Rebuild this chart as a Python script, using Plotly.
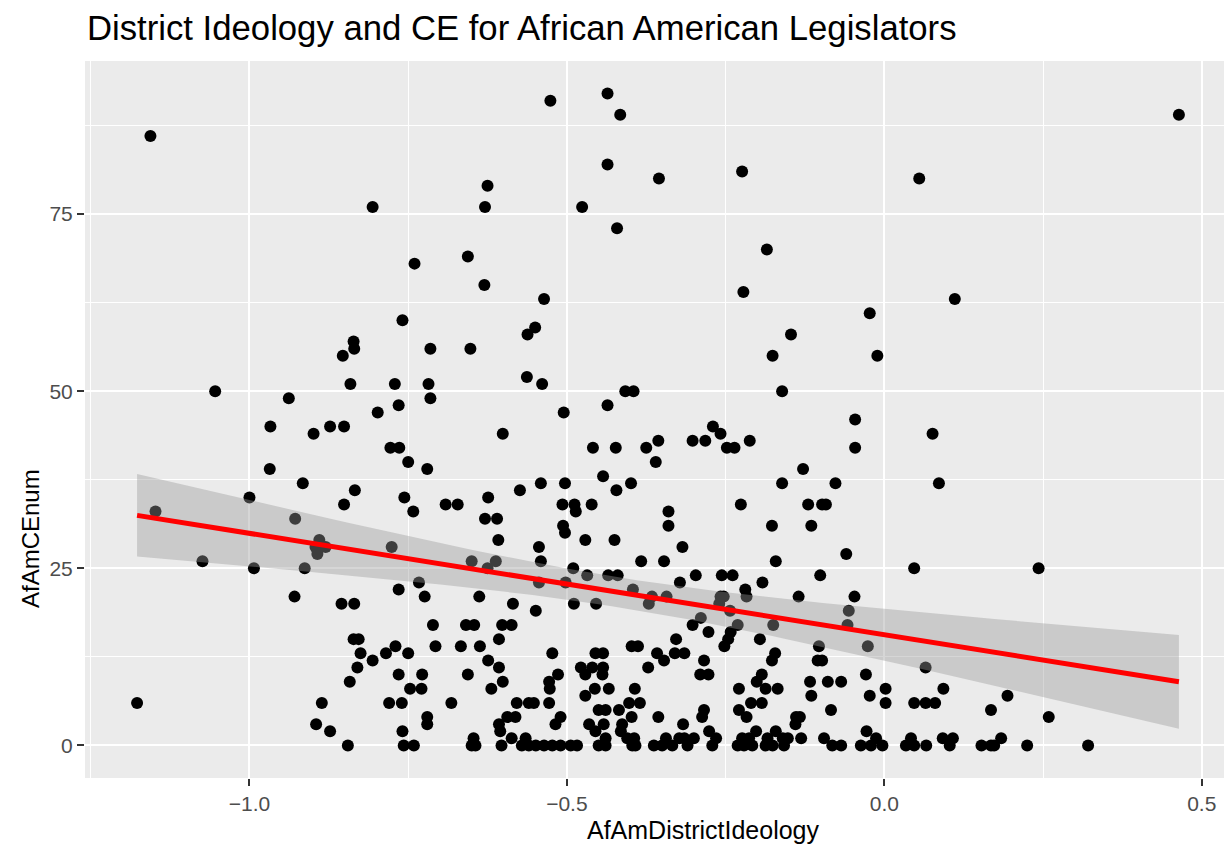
import numpy as np
import plotly.graph_objects as go

# ---------------- data ----------------
# (AfAmDistrictIdeology, AfAmCEnum) pairs, grouped roughly by region
ideology = [
    # upper region
    -1.156, -0.806, -0.740, -0.656, -0.759, -0.836, -0.835, -0.853, -0.715, -0.652,
    -1.054, -0.841, -0.771, -0.718, -0.938, -0.715, -0.765, -0.798,
    -0.526, -0.436, -0.416, -0.436, -0.355, -0.224, -0.625, -0.629, -0.476, -0.421,
    -0.185, -0.630, -0.222, -0.536, -0.550, -0.562, -0.147, -0.176, -0.563, -0.539,
    -0.408, -0.395, -0.161, -0.505, -0.436,
    0.464, 0.055, 0.111, -0.023, -0.011, -0.046,
    # middle left
    -0.967, -0.899, -0.873, -0.851, -0.968, -0.916, -1.000, -0.834, -0.851, -1.148,
    -0.928, -0.890, -0.896, -0.880, -0.893, -1.074, -0.993, -0.913,
    # middle centre
    -0.601, -0.778, -0.764, -0.750, -0.720, -0.459, -0.423, -0.375, -0.356, -0.360,
    -0.443, -0.399, -0.422, -0.541, -0.503, -0.574, -0.756, -0.624, -0.691, -0.672,
    -0.507, -0.488, -0.461, -0.486, -0.742, -0.629, -0.610, -0.340, -0.340, -0.506,
    -0.503, -0.608, -0.471, -0.425, -0.776, -0.544, -0.650, -0.612, -0.541, -0.383,
    -0.347, -0.625, -0.490, -0.468, -0.435, -0.420, -0.733, -0.544, -0.502, -0.765,
    -0.396,
    # middle right
    -0.270, -0.258, -0.302, -0.282, -0.212, -0.248, -0.236, -0.046, 0.076, -0.128,
    -0.161, -0.077, 0.086, -0.226, -0.120, -0.098, -0.092, -0.177, -0.115, -0.318,
    -0.060, -0.171, 0.047, -0.297, -0.256, -0.239, -0.101, -0.322, -0.192, -0.219,
    0.243,
    # lower left
    -0.929, -0.855, -0.835, -0.836, -0.828, -0.825, -0.806, -0.830, -0.842, -1.177,
    -0.886, -0.895, -0.873, -0.845,
    # lower centre
    -0.724, -0.638, -0.585, -0.549, -0.489, -0.454, -0.366, -0.371, -0.343, -0.711,
    -0.659, -0.646, -0.602, -0.587, -0.607, -0.770, -0.785, -0.750, -0.707, -0.667,
    -0.637, -0.523, -0.455, -0.443, -0.398, -0.388, -0.358, -0.347, -0.624, -0.607,
    -0.478, -0.460, -0.443, -0.372, -0.765, -0.728, -0.656, -0.514, -0.471, -0.444,
    -0.528, -0.601, -0.747, -0.729, -0.619, -0.527, -0.456, -0.434, -0.393, -0.471,
    -0.780, -0.760, -0.682, -0.579, -0.560, -0.552, -0.528, -0.402, -0.385, -0.450,
    -0.439, -0.418, -0.720, -0.720, -0.594, -0.581, -0.510, -0.518, -0.398, -0.356,
    -0.607, -0.605, -0.465, -0.442, -0.413, -0.455, -0.415, -0.759, -0.647, -0.587,
    -0.565, -0.439, -0.405, -0.394, -0.344,
    -0.757, -0.741, -0.650, -0.644, -0.603, -0.571, -0.560, -0.549, -0.536, -0.523,
    -0.510, -0.494, -0.484, -0.450, -0.439, -0.397, -0.392, -0.363, -0.350,
    # lower right
    -0.258, -0.253, -0.260, -0.217, -0.135, -0.047, -0.056, -0.058, -0.243, -0.289,
    -0.302, -0.277, -0.231, -0.242, -0.246, -0.252, -0.175, -0.196, -0.103, -0.026,
    0.065, -0.328, -0.330, -0.315, -0.284, -0.290, -0.277, -0.172, -0.177, -0.105,
    -0.098, -0.193, -0.201, -0.187, -0.168, -0.229, -0.117, -0.089, -0.068, -0.029,
    0.002, -0.023, 0.002, -0.115, 0.093, -0.210, -0.193, 0.047, 0.065, 0.080,
    -0.284, -0.287, -0.229, -0.217, -0.084, -0.139, -0.133, -0.140, -0.317, -0.276,
    -0.202, -0.171, -0.028,
    -0.323, -0.315, -0.300, -0.265, -0.224, -0.213, -0.184, -0.160, -0.152, -0.131,
    -0.095, -0.013, 0.042, 0.092, 0.108,
    -0.334, -0.310, -0.271, -0.231, -0.221, -0.208, -0.187, -0.176, -0.158, -0.082,
    -0.068, -0.037, -0.021, -0.003, 0.034, 0.047, 0.066, 0.103,
    # far right
    0.194, 0.168, 0.259, 0.184, 0.153, 0.168, 0.173, 0.225, 0.321,
]

ce_num = [
    # upper region
    86, 76, 68, 69, 60, 57, 56, 55, 56, 56,
    50, 51, 51, 51, 49, 49, 48, 47,
    91, 92, 89, 82, 80, 81, 79, 76, 76, 73,
    70, 65, 64, 63, 59, 58, 58, 55, 52, 51,
    50, 50, 50, 47, 48,
    89, 80, 63, 61, 55, 46,
    # middle left
    45, 44, 45, 45, 39, 37, 35, 36, 34, 33,
    32, 29, 28, 28, 27, 26, 25, 25,
    # middle centre
    44, 42, 42, 40, 39, 42, 42, 42, 43, 40,
    38, 37, 36, 37, 37, 36, 35, 35, 34, 34,
    34, 34, 34, 33, 33, 32, 32, 33, 31, 31,
    30, 29, 29, 29, 28, 28, 26, 26, 26, 26,
    26, 25, 25, 24, 24, 24, 23, 23, 23, 22,
    22,
    # middle right
    45, 44, 43, 43, 43, 42, 42, 42, 44, 39,
    37, 37, 37, 34, 34, 34, 34, 31, 31, 28,
    27, 26, 25, 24, 24, 24, 24, 23, 23, 22,
    25,
    # lower left
    21, 20, 20, 15, 15, 13, 12, 11, 9, 6,
    6, 3, 2, 0,
    # lower centre
    21, 21, 20, 19, 20, 20, 21, 20, 21, 17,
    17, 17, 17, 17, 15, 14, 13, 13, 14, 14,
    14, 13, 13, 13, 14, 14, 13, 12, 12, 11,
    11, 11, 11, 11, 10, 10, 10, 10, 10, 10,
    9, 9, 8, 8, 8, 8, 8, 8, 8, 7,
    6, 6, 6, 6, 6, 6, 6, 6, 6, 5,
    5, 5, 4, 3, 4, 4, 4, 3, 4, 4,
    3, 2, 3, 3, 3, 2, 2, 2, 1, 1,
    1, 1, 1, 1, 1,
    0, 0, 0, 0, 0, 0, 0, 0, 0, 0,
    0, 0, 0, 0, 0, 0, 0, 0, 0,
    # lower right
    21, 21, 20, 21, 21, 21, 19, 17, 19, 18,
    17, 16, 17, 16, 15, 14, 17, 15, 14, 14,
    11, 15, 13, 13, 12, 10, 10, 13, 12, 12,
    12, 10, 9, 8, 8, 8, 9, 9, 9, 10,
    8, 7, 6, 7, 8, 6, 6, 6, 6, 6,
    5, 4, 5, 4, 5, 4, 4, 3, 3, 2,
    2, 2, 2,
    1, 1, 1, 1, 1, 1, 1, 1, 1, 1,
    1, 1, 1, 1, 1,
    0, 0, 0, 0, 0, 0, 0, 0, 0, 0,
    0, 0, 0, 0, 0, 0, 0, 0,
    # far right
    7, 5, 4, 1, 0, 0, 0, 0, 0,
]

x_tick_vals = [-1.0, -0.5, 0.0, 0.5]
x_tick_text = ["\u22121.0", "\u22120.5", "0.0", "0.5"]
y_tick_vals = [0, 25, 50, 75]
y_tick_text = ["0", "25", "50", "75"]

title_text = "District Ideology and CE for African American Legislators"
x_title = "AfAmDistrictIdeology"
y_title = "AfAmCEnum"

# ---------------- linear fit (geom_smooth(method = "lm")) ----------------
x = np.array(ideology, dtype=float)
y = np.array(ce_num, dtype=float)
n = len(x)
slope, intercept = np.polyfit(x, y, 1)
resid = y - (intercept + slope * x)
s = np.sqrt(np.sum(resid ** 2) / (n - 2))
xbar = x.mean()
sxx = np.sum((x - xbar) ** 2)
t_crit = 1.966  # 97.5% t quantile for ~n-2 df
xg = np.linspace(x.min(), x.max(), 80)
yg = intercept + slope * xg
se = s * np.sqrt(1.0 / n + (xg - xbar) ** 2 / sxx)
upper = yg + t_crit * se
lower = yg - t_crit * se

# ggplot-style 5% expansion
xspan = x.max() - x.min()
xr = [x.min() - 0.05 * xspan, x.max() + 0.05 * xspan]
yspan = y.max() - y.min()
yr = [y.min() - 0.05 * yspan, y.max() + 0.05 * yspan]

fig = go.Figure()
fig.add_trace(go.Scatter(
    x=x, y=y, mode="markers",
    marker=dict(color="black", size=12, line=dict(width=0)),
    hoverinfo="skip",
))
fig.add_trace(go.Scatter(
    x=np.concatenate([xg, xg[::-1]]),
    y=np.concatenate([upper, lower[::-1]]),
    mode="lines", fill="toself",
    fillcolor="rgba(153,153,153,0.4)",
    line=dict(width=0, color="rgba(0,0,0,0)"),
    hoverinfo="skip",
))
fig.add_trace(go.Scatter(
    x=xg, y=yg, mode="lines",
    line=dict(color="#FF0000", width=5),
    hoverinfo="skip",
))

font_family = "Liberation Sans, Arial, Helvetica, sans-serif"
axis_common = dict(
    showgrid=True, gridcolor="white", gridwidth=2.2,
    zeroline=False, showline=False,
    ticks="outside", ticklen=7, tickwidth=1.6, tickcolor="#333333",
    tickfont=dict(size=21, color="#4D4D4D", family=font_family),
)

# The page body has an 8px margin, so the figure is sized/offset to compensate.
W, H = 1224, 841
ML, MR, MT, MB = 77, 1, 53, 71
pw = W - ML - MR
ph = H - MT - MB

fig.update_layout(
    width=W, height=H,
    margin=dict(l=ML, r=MR, t=MT, b=MB),
    plot_bgcolor="#EBEBEB", paper_bgcolor="white",
    font=dict(family=font_family, color="black"),
    showlegend=False,
    title=dict(
        text=title_text,
        font=dict(size=34.7, color="black", family=font_family),
        x=79 / W, xref="container", xanchor="left",
        y=1 - 20 / H, yref="container", yanchor="middle",
    ),
    xaxis=dict(
        range=xr, tickvals=x_tick_vals, ticktext=x_tick_text,
        minor=dict(dtick=0.25, tick0=0, showgrid=True, gridcolor="white", gridwidth=1.1, ticks=""),
        **axis_common,
    ),
    yaxis=dict(
        range=yr, tickvals=y_tick_vals, ticktext=y_tick_text,
        minor=dict(dtick=12.5, tick0=0, showgrid=True, gridcolor="white", gridwidth=1.1, ticks=""),
        **axis_common,
    ),
    annotations=[
        dict(text=x_title, xref="paper", yref="paper",
             x=(695 - ML) / pw, y=0, xanchor="center", yanchor="middle",
             yshift=-(822 - (MT + ph)), showarrow=False,
             font=dict(size=25, color="black", family=font_family)),
        dict(text=y_title, xref="paper", yref="paper",
             x=0, y=(MT + ph - 531) / ph, xanchor="center", yanchor="middle",
             xshift=-(ML - 22), textangle=-90, showarrow=False,
             font=dict(size=24, color="black", family=font_family)),
    ],
)

fig.write_html("out.html")
